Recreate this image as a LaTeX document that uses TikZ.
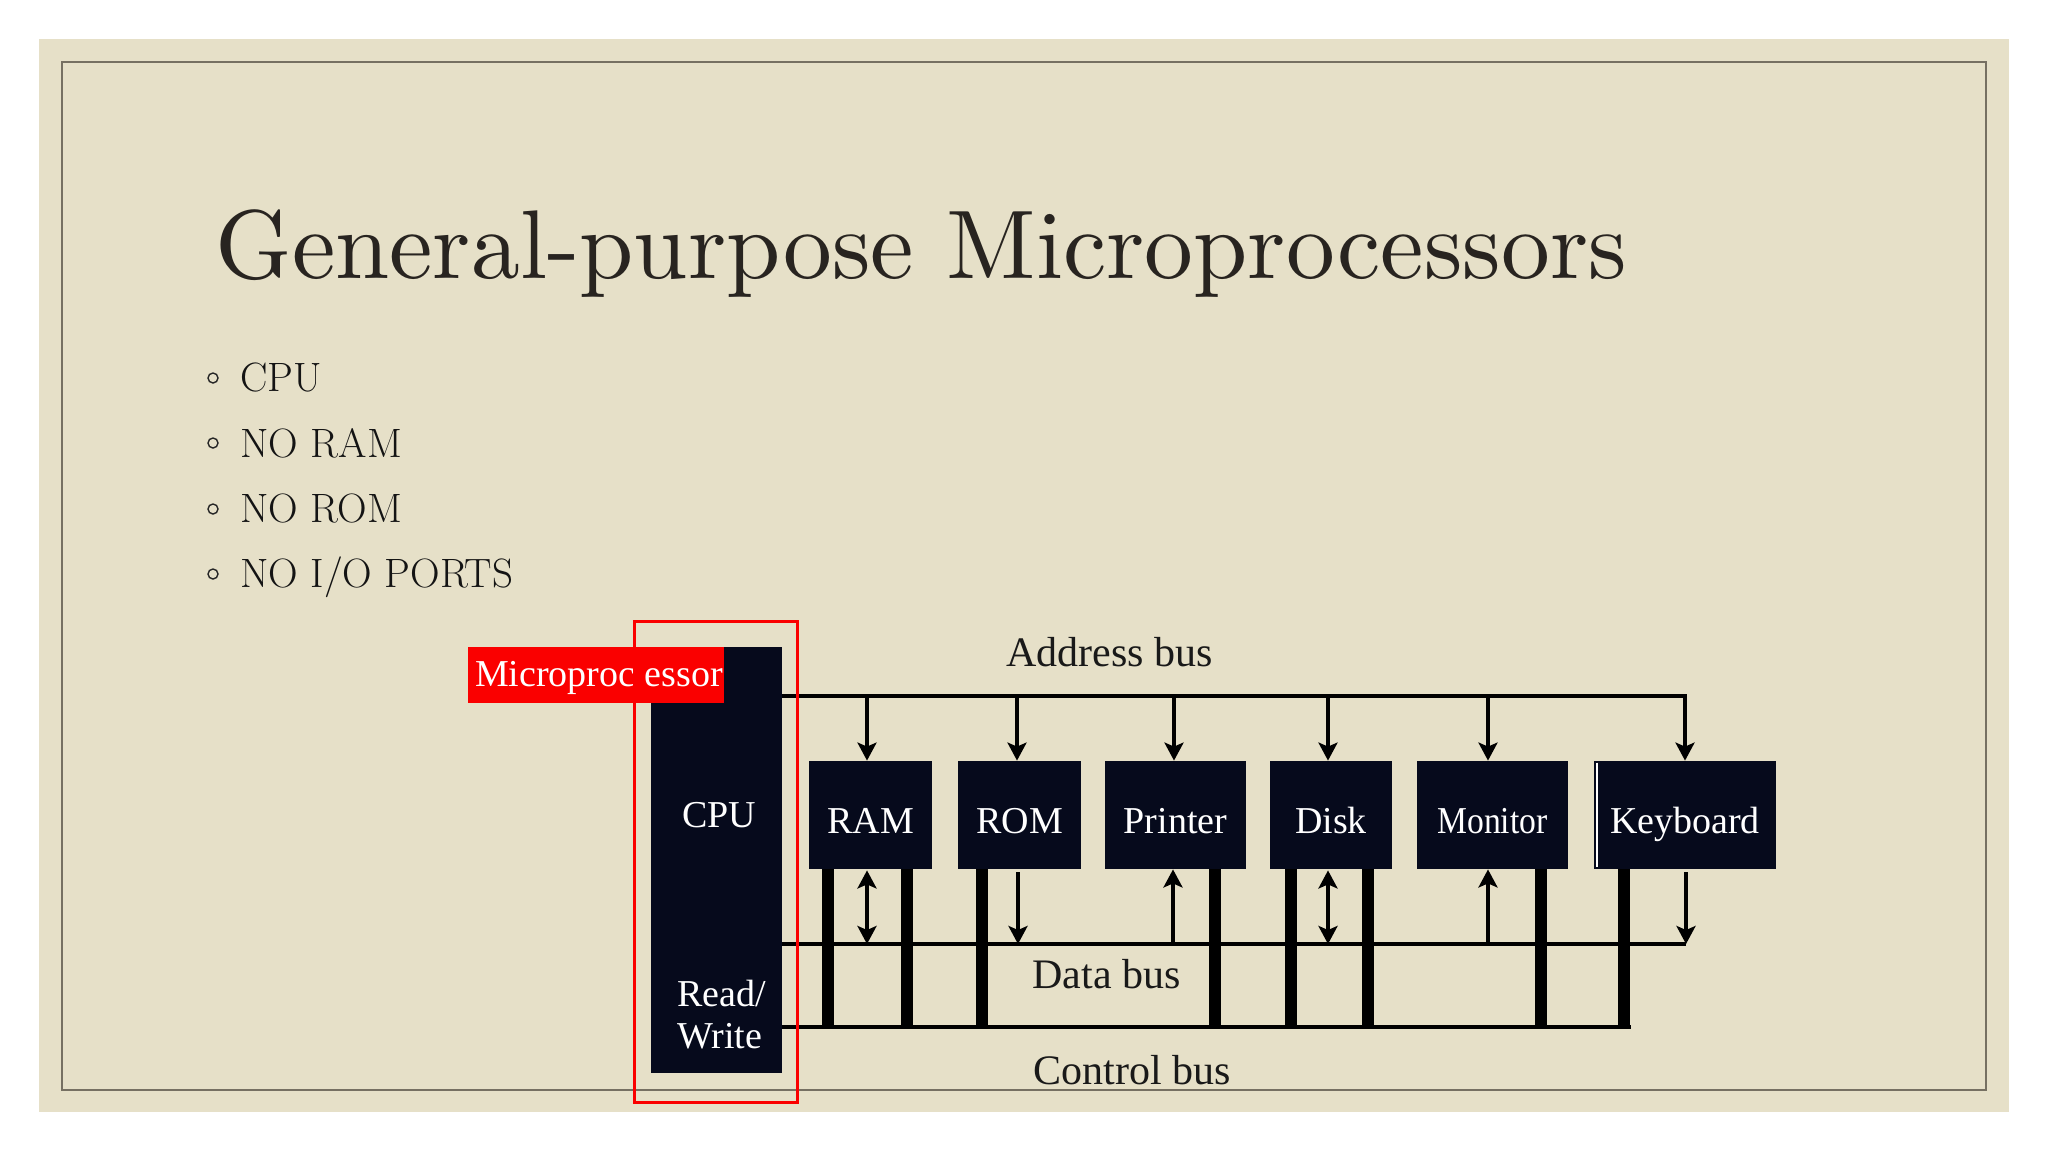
\documentclass[tikz,border=0pt]{standalone}
\usepackage{fontspec}
\newfontfamily\tnr{Liberation Serif}
\usetikzlibrary{arrows.meta}
\definecolor{slidebg}{RGB}{230,224,200}
\definecolor{framec}{RGB}{118,112,98}
\definecolor{boxc}{RGB}{6,10,28}
\definecolor{titlec}{RGB}{40,36,32}
\definecolor{redc}{RGB}{250,0,0}
\begin{document}
\begin{tikzpicture}[x=0.5pt,y=-0.5pt,
  devbox/.style={fill=boxc, draw=none, inner sep=0pt, text=white, font=\tnr\fontsize{19}{22}\selectfont, text height=18pt, text depth=0pt, minimum height=54pt},
  bus/.style={line width=2pt, black},
  arr/.style={line width=2pt, black, -{Stealth[length=9pt,width=9.5pt,inset=2pt]}},
  darr/.style={line width=2pt, black, {Stealth[length=9pt,width=9.5pt,inset=2pt]}-{Stealth[length=9pt,width=9.5pt,inset=2pt]}},
  ctl/.style={line width=6pt, black},
  buslabel/.style={font=\tnr\fontsize{21}{24}\selectfont, text=black!90, inner sep=0pt, anchor=base west},
  whitelabel/.style={font=\tnr\fontsize{19}{21}\selectfont, text=white, inner sep=0pt},
  bullettext/.style={font=\fontsize{20.5}{24}\selectfont, inner sep=0pt, anchor=base west, text=black!92},
  bulletdot/.style={circle, draw=black!85, line width=0.7pt, minimum size=5pt, inner sep=0pt}
]
% slide background
\fill[white] (0,0) rectangle (2048,1152);
\fill[slidebg] (39,39) rectangle (2009,1112);
\draw[framec, line width=1pt] (62,62) rectangle (1986,1090);
\useasboundingbox (0,0) rectangle (2048,1152);

% title
\node[anchor=base west, inner sep=0pt, text=titlec] (title) at (215,278)
  {\resizebox{705.5pt}{!}{\fontsize{10}{12}\selectfont General-purpose Microprocessors}};

% bullets
\node[bulletdot] (b1) at (213,378) {};
\node[bulletdot] (b2) at (213,443) {};
\node[bulletdot] (b3) at (213,509) {};
\node[bulletdot] (b4) at (213,574) {};
\node[bullettext] (t1) at (240,391) {CPU};
\node[bullettext] (t2) at (240,457) {NO RAM};
\node[bullettext] (t3) at (240,522) {NO ROM};
\node[bullettext] (t4) at (240,587) {NO I/O PORTS};

% blocks
\node[fill=boxc, inner sep=0pt, minimum width=65.5pt, minimum height=213pt] (cpu) at (716.5,860) {};
\node[devbox, minimum width=61.5pt] (ram) at (870.5,815) {RAM};
\node[devbox, minimum width=61.5pt] (rom) at (1019.5,815) {ROM};
\node[devbox, minimum width=70.5pt] (printer) at (1175.5,815) {Printer};
\node[devbox, minimum width=61pt] (disk) at (1331,815) {Disk};
\node[devbox, minimum width=75.5pt] (monitor) at (1492.5,815) {\scalebox{0.885}[1]{Monitor}};
\node[devbox, minimum width=91pt] (keyboard) at (1685,815) {Keyboard};
\draw[white, line width=0.7pt] ([xshift=1.6pt,yshift=-1pt]keyboard.north west) -- ([xshift=1.6pt,yshift=1pt]keyboard.south west);

\node[whitelabel, anchor=base] (cputxt) at (719,827) {CPU};
\node[whitelabel, anchor=base west, align=left] (rwtxt) at (677,1048) {Read/\\Write};

% bus coordinates
\coordinate (abL) at (782,696);
\coordinate (dbL) at (782,944);
\coordinate (cbL) at (782,1027);
\coordinate (cbR) at (1631,1027);
% address taps
\coordinate (ramA) at (867,696);
\coordinate (romA) at (1017,696);
\coordinate (prA) at (1174,696);
\coordinate (diskA) at (1328,696);
\coordinate (monA) at (1488,696);
% data taps
\coordinate (ramD) at (867,944);
\coordinate (romD) at (1018,944);
\coordinate (prD) at (1173,944);
\coordinate (diskD) at (1328,944);
\coordinate (monD) at (1488,944);
\coordinate (kbD) at (1686,944);
% control taps
\coordinate (ramC1) at (828,1027);
\coordinate (ramC2) at (907,1027);
\coordinate (romC) at (982,1027);
\coordinate (prC) at (1215,1027);
\coordinate (diskC1) at (1291,1027);
\coordinate (diskC2) at (1368,1027);
\coordinate (monC) at (1541,1027);
\coordinate (kbC) at (1624,1027);

% address bus
\draw[arr] (abL) -| (keyboard.north);
\draw[arr] (ramA) -- (ramA |- ram.north);
\draw[arr] (romA) -- (romA |- rom.north);
\draw[arr] (prA) -- (prA |- printer.north);
\draw[arr] (diskA) -- (diskA |- disk.north);
\draw[arr] (monA) -- (monA |- monitor.north);

% data bus
\draw[bus] (dbL) -- (kbD);
\draw[darr, shorten <=0.5pt] (ramD |- ram.south) -- (ramD);
\draw[arr, shorten <=1.5pt] (romD |- rom.south) -- (romD);
\draw[arr] (prD) -- (prD |- printer.south);
\draw[darr, shorten <=0.5pt] (diskD |- disk.south) -- (diskD);
\draw[arr] (monD) -- (monD |- monitor.south);
\draw[arr, shorten <=1.5pt] (kbD |- keyboard.south) -- (kbD);

% control bus
\draw[ctl] (ramC1 |- ram.south) -- (ramC1);
\draw[ctl] (ramC2 |- ram.south) -- (ramC2);
\draw[ctl] (romC |- rom.south) -- (romC);
\draw[ctl] (prC |- printer.south) -- (prC);
\draw[ctl] (diskC1 |- disk.south) -- (diskC1);
\draw[ctl] (diskC2 |- disk.south) -- (diskC2);
\draw[ctl] (monC |- monitor.south) -- (monC);
\draw[ctl] (kbC |- keyboard.south) -- (kbC);
\draw[bus] (cbL) -- (cbR);

% bus labels
\node[buslabel] (ablabel) at (1006,666) {Address bus};
\node[buslabel] (dblabel) at (1032,988) {Data bus};
\node[buslabel] (cblabel) at (1033,1084) {Control bus};

% microprocessor label and outline
\node[fill=redc, inner sep=0pt, minimum width=128pt, minimum height=28pt, text=white,
  font=\tnr\fontsize{19}{22}\selectfont, text height=11pt, text depth=0pt] (mplabel) at (596,675) {\hspace{3pt}Microproc essor};
\draw[redc, line width=1.5pt] (634,621) rectangle (797,1102);
\end{tikzpicture}
\end{document}
